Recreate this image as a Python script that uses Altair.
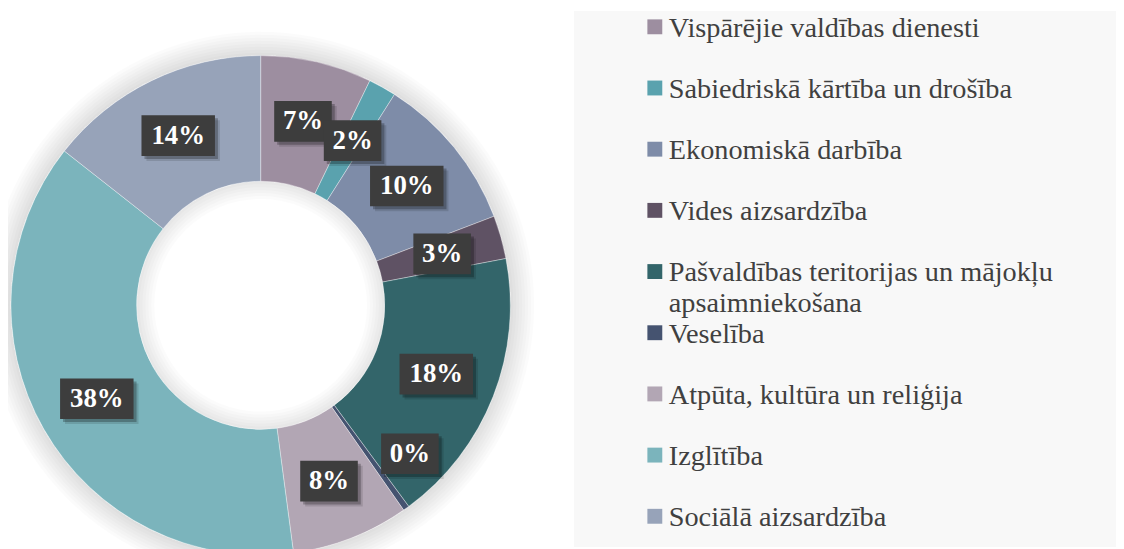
import math
import altair as alt
import pandas as pd

# ---- data ----
categories = [
    "Vispārējie valdības dienesti",
    "Sabiedriskā kārtība un drošība",
    "Ekonomiskā darbība",
    "Vides aizsardzība",
    "Pašvaldības teritorijas un mājokļu apsaimniekošana",
    "Veselība",
    "Atpūta, kultūra un reliģija",
    "Izglītība",
    "Sociālā aizsardzība",
]
shares = [7.2, 1.8, 10.2, 2.8, 17.9, 0.4, 7.6, 37.7, 14.4]
legend_text = [
    "Vispārējie valdības dienesti",
    "Sabiedriskā kārtība un drošība",
    "Ekonomiskā darbība",
    "Vides aizsardzība",
    "Pašvaldības teritorijas un mājokļu\napsaimniekošana",
    "Veselība",
    "Atpūta, kultūra un reliģija",
    "Izglītība",
    "Sociālā aizsardzība",
]
colors = ["#9d8ea0", "#5aa2ae", "#7e8ca8", "#5f5264", "#33656a",
          "#455370", "#b2a6b4", "#7bb4bc", "#97a3b9"]

# ---- layout (pixels) ----
W, H = 1116, 541
CX, CY = 254.5, 297.5          # donut centre inside the plot area
R_OUT, R_IN, R_LAB = 251.5, 125, 190
halo_out = [3, 6, 9, 12, 15, 18, 21, 24]
halo_in = [3, 6, 9, 12, 15, 18]

df = pd.DataFrame({"category": categories, "share": shares,
                   "idx": list(range(len(categories)))})
df_leg = pd.DataFrame({"category": categories, "text": legend_text})

xs = alt.Scale(domain=[-CX, W - CX], nice=False, zero=False)
ys = alt.Scale(domain=[-(H - CY), CY], nice=False, zero=False)
cscale = alt.Scale(domain=categories, range=colors)

base = (
    alt.Chart(df)
    .transform_joinaggregate(total="sum(share)")
    .transform_window(cum="sum(share)", sort=[alt.SortField("idx")], frame=[None, 0])
    .transform_calculate(
        pct="datum.share / datum.total",
        a0="(datum.cum - datum.share) / datum.total * 2 * PI",
        a1="datum.cum / datum.total * 2 * PI",
    )
    .transform_calculate(
        small="datum.pct < 0.01",
        am="(datum.a0 + datum.a1) / 2",
        hw="round(datum.pct * 100) >= 10 ? 37 : 29",
    )
    .transform_calculate(
        am2="datum.small ? datum.am - 0.166 : datum.am",
        rl=f"datum.small ? 212 : {R_LAB}",
    )
    .transform_calculate(
        lx="datum.rl * sin(datum.am2)",
        ly="datum.rl * cos(datum.am2)",
    )
    .transform_calculate(
        bx0="datum.lx - datum.hw", bx1="datum.lx + datum.hw",
        by0="datum.ly - 20.5", by1="datum.ly + 20.5",
    )
)

# soft glow around the ring
halo_df = pd.DataFrame(
    {"r0": [R_OUT] * len(halo_out) + [R_IN - d for d in halo_in],
     "r1": [R_OUT + d for d in halo_out] + [R_IN] * len(halo_in)}
)
halo = alt.Chart(halo_df).mark_arc(color="black", opacity=0.016).encode(
    radius=alt.Radius("r1:Q", scale=None),
    radius2="r0:Q",
    theta=alt.value(0),
    theta2=alt.value(2 * math.pi),
    x=alt.value(CX),
    y=alt.value(CY),
)

arcs = base.mark_arc(
    innerRadius=R_IN, outerRadius=R_OUT,
    stroke="white", strokeWidth=0.7, strokeOpacity=0.5,
).encode(
    theta=alt.Theta("share:Q", stack=True),
    order=alt.Order("idx:Q"),
    color=alt.Color("category:N", scale=cscale, legend=None),
    x=alt.value(CX),
    y=alt.value(CY),
)

panel = alt.Chart(pd.DataFrame({"p": [0]})).mark_rect(color="#f8f8f8").encode(
    x=alt.value(570), x2=alt.value(W), y=alt.value(1), y2=alt.value(H)
)

def box_layer(color, opacity, off):
    return base.mark_rect(
        color=color, opacity=opacity,
        xOffset=off, x2Offset=off, yOffset=off, y2Offset=off,
    ).encode(
        x=alt.X("bx0:Q", scale=xs, axis=None),
        x2="bx1:Q",
        y=alt.Y("by0:Q", scale=ys, axis=None),
        y2="by1:Q",
    )

shadow1 = box_layer("black", 0.12, 5)
shadow2 = box_layer("black", 0.25, 3)
boxes = box_layer("#3d3d3d", 1.0, 0)

labels = base.mark_text(
    font="Liberation Serif", fontWeight="bold", fontSize=27,
    color="white", align="center", baseline="middle",
).encode(
    x=alt.X("lx:Q", scale=xs, axis=None),
    y=alt.Y("ly:Q", scale=ys, axis=None),
    text=alt.Text("pct:Q", format=".0%"),
)

ly_scale = alt.Scale(type="point", domain=categories, range=[17, 510], padding=0)
leg_sym = alt.Chart(df_leg).mark_square(size=225, opacity=1).encode(
    x=alt.value(651.5),
    y=alt.Y("category:N", scale=ly_scale, axis=None),
    color=alt.Color("category:N", scale=cscale, legend=None),
)
leg_txt = alt.Chart(df_leg).mark_text(
    font="Liberation Serif", fontSize=28.5, color="#404040",
    align="left", baseline="top", dy=-13, lineBreak="\n", lineHeight=31,
).encode(
    x=alt.value(665.5),
    y=alt.Y("category:N", scale=ly_scale, axis=None),
    text="text:N",
)

chart = (
    alt.layer(halo, arcs, panel, shadow1, shadow2, boxes, labels, leg_sym, leg_txt)
    .resolve_scale(y="independent")
    .properties(width=W, height=H, padding=0,
                autosize=alt.AutoSizeParams(type="none"))
    .configure_view(strokeWidth=0)
)

chart.save("out.html", embed_options={"renderer": "svg", "actions": False})
